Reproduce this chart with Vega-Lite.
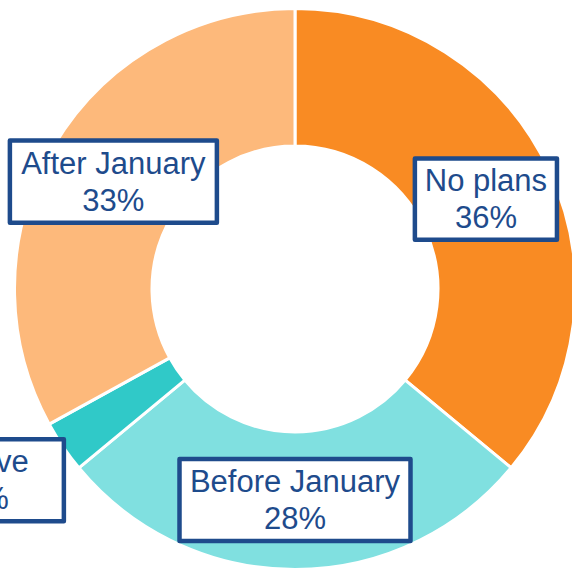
{
  "$schema": "https://vega.github.io/schema/vega-lite/v6.json",
  "width": 572,
  "height": 569,
  "padding": 0,
  "autosize": "none",
  "background": "white",
  "config": {"view": {"stroke": null}},
  "data": {
    "values": [
      {"category": "No plans", "pct": 36},
      {"category": "Before January", "pct": 28},
      {"category": "I have", "pct": 3},
      {"category": "After January", "pct": 33}
    ]
  },
  "transform": [
    {"window": [{"op": "row_number", "as": "ord"}]},
    {"stack": "pct", "groupby": [], "sort": [{"field": "ord", "order": "ascending"}], "as": ["p0", "p1"]},
    {"calculate": "datum.category + '\\n' + datum.pct + '%'", "as": "label"},
    {"calculate": "(datum.p0 + datum.p1) / 200 * 2 * PI + (datum.pct < 5 ? 0.042 : 0)", "as": "mid"},
    {"calculate": "datum.pct < 5 ? 363 : 211", "as": "r"},
    {"calculate": "datum.r * sin(datum.mid)", "as": "lx"},
    {"calculate": "datum.r * cos(datum.mid)", "as": "ly"}
  ],
  "layer": [
    {
      "mark": {"type": "arc", "outerRadius": 280.5, "innerRadius": 143, "stroke": "white", "strokeWidth": 3},
      "encoding": {
        "x": {"datum": 0, "type": "quantitative", "scale": {"domain": [-295, 277], "nice": false, "zero": false}, "axis": null},
        "y": {"datum": 0, "type": "quantitative", "scale": {"domain": [-280, 289], "nice": false, "zero": false}, "axis": null},
        "theta": {"field": "p0", "type": "quantitative", "scale": {"domain": [0, 100]}},
        "theta2": {"field": "p1"},
        "color": {
          "field": "category",
          "type": "nominal",
          "scale": {
            "domain": ["No plans", "Before January", "I have", "After January"],
            "range": ["#F98B23", "#80E0E0", "#30C9C8", "#FDB97B"]
          },
          "legend": null
        }
      }
    },
    {
      "mark": {"type": "point", "filled": true, "fill": "white", "stroke": "#1E4B8C", "strokeWidth": 4.5, "strokeJoin": "round", "opacity": 1, "size": 57600},
      "encoding": {
        "x": {"field": "lx", "type": "quantitative"},
        "y": {"field": "ly", "type": "quantitative"},
        "shape": {
          "field": "category",
          "type": "nominal",
          "scale": {
            "domain": ["No plans", "Before January", "I have", "After January"],
            "range": [
              "M-0.592,-0.338H0.592V0.338H-0.592Z",
              "M-0.9625,-0.342H0.9625V0.342H-0.9625Z",
              "M-0.645,-0.342H0.645V0.342H-0.645Z",
              "M-0.8625,-0.342H0.8625V0.342H-0.8625Z"
            ]
          },
          "legend": null
        }
      }
    },
    {
      "mark": {"type": "text", "font": "Liberation Sans", "fontSize": 31, "lineHeight": 37, "lineBreak": "\n", "align": "center", "baseline": "middle", "dy": -17, "color": "#1E4B8C"},
      "encoding": {
        "x": {"field": "lx", "type": "quantitative"},
        "y": {"field": "ly", "type": "quantitative"},
        "text": {"field": "label"}
      }
    }
  ]
}
